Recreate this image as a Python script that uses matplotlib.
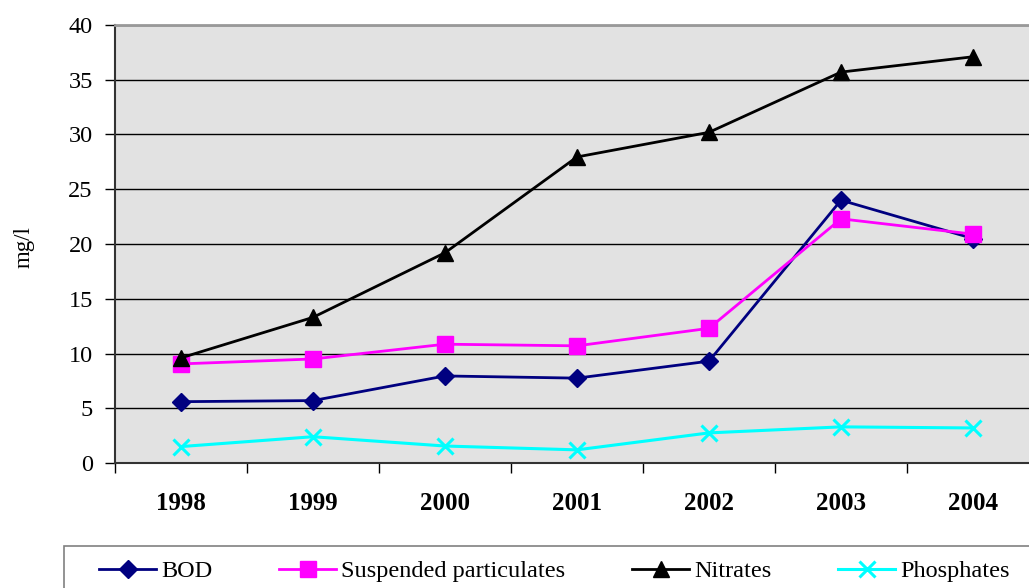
import matplotlib
matplotlib.use("Agg")
import matplotlib.pyplot as plt
from matplotlib.patches import Rectangle
import numpy as np

years = ["1998", "1999", "2000", "2001", "2002", "2003", "2004"]
bod = [5.6, 5.7, 7.95, 7.75, 9.3, 24.0, 20.5]
suspended = [9.05, 9.5, 10.85, 10.7, 12.3, 22.3, 20.9]
nitrates = [9.6, 13.3, 19.2, 27.95, 30.2, 35.7, 37.1]
phosphates = [1.5, 2.4, 1.55, 1.2, 2.75, 3.3, 3.2]

plt.rcParams['font.family'] = ['Liberation Serif', 'DejaVu Serif']

W, H = 1029, 588
fig = plt.figure(figsize=(W / 100, H / 100), dpi=100)
left, right, top, bottom = 115, 1039, 25, 463
ax = fig.add_axes([left / W, 1 - bottom / H, (right - left) / W, (bottom - top) / H])
ax.set_facecolor('#E2E2E2')

x = np.arange(len(years))
ax.plot(x, bod, color='#000080', lw=2, marker='D', ms=9, label='BOD', zorder=3)
ax.plot(x, suspended, color='#FF00FF', lw=2, marker='s', ms=11, label='Suspended particulates', zorder=3)
ax.plot(x, nitrates, color='black', lw=2, marker='^', ms=11, label='Nitrates', zorder=4)
ax.plot(x, phosphates, color='#00FFFF', lw=2.2, marker='x', ms=12, mew=2.2, label='Phosphates', zorder=3)

ax.set_xlim(-0.5, 6.5)
ax.set_ylim(0, 40)
ax.set_yticks(np.arange(0, 41, 5))
ax.yaxis.grid(True, color='black', lw=1)
ax.set_axisbelow(True)
ax.set_xticks(x)
ax.set_xticklabels(years, fontsize=18, fontweight='bold')
ax.set_xticks(np.arange(-0.5, 7, 1), minor=True)
ax.tick_params(axis='x', which='major', length=0, pad=21)
ax.tick_params(axis='x', which='minor', length=7, width=1, direction='out', color='black')
ax.tick_params(axis='y', length=7, width=1, direction='out', labelsize=17.5, pad=9)
ax.spines['right'].set_visible(False)
ax.spines['top'].set_color('#999999')
ax.spines['top'].set_linewidth(2)
ax.spines['left'].set_color('#333333')
ax.spines['left'].set_linewidth(1.5)
ax.spines['bottom'].set_color('#333333')
ax.spines['bottom'].set_linewidth(1.5)
fig.text(24 / W, 1 - 247 / H, 'mg/l', rotation=90, fontsize=16.5, ha='center', va='center')

fig.patches.append(Rectangle((64 / W, -0.1), 1.2, (1 - 546 / H) + 0.1, transform=fig.transFigure,
                             facecolor='white', edgecolor='#808080', lw=1.2))
handles, labels = ax.get_legend_handles_labels()
leg = fig.legend(handles, labels, loc='center left', bbox_to_anchor=(99 / W, 1 - 571 / H),
                 ncol=4, frameon=False, fontsize=17.5, handlelength=2.35, handletextpad=0.2,
                 columnspacing=2.75, borderpad=0, borderaxespad=0)

fig.savefig('out.png', dpi=100)
